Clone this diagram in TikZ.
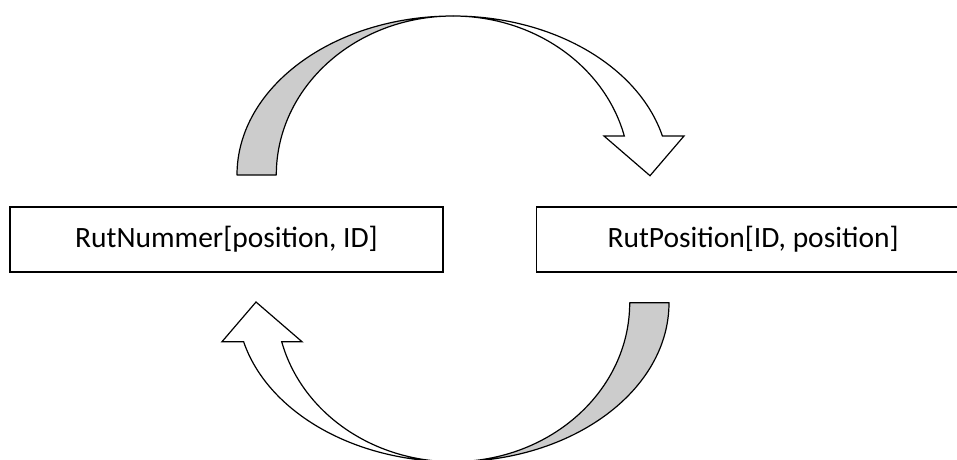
\documentclass[tikz,border=0pt]{standalone}
\usepackage{fontspec}
\setmainfont{Carlito}
\usetikzlibrary{positioning}

\tikzset{
  rutbox/.style={draw, line width=1.6pt, rectangle, minimum width=433pt,
    minimum height=65pt, inner sep=0pt, font=\fontsize{29.5}{35}\selectfont},
  bandback/.style={draw, line width=1.2pt, fill=gray!40, line join=round},
  bandfront/.style={draw, line width=1.2pt, fill=white, line join=miter},
}

\begin{document}
\begin{tikzpicture}[x=1pt,y=1pt]
\useasboundingbox (0,0) rectangle (957,459);
\clip (0,0) rectangle (957,459);

\node[rutbox] (nummer) at (226.5,219.5) {RutNummer[position, ID]};
\node[rutbox, right=92pt of nummer] (position) {RutPosition[ID, position]};

% the two curved arrows, the lower one turned round
\foreach \rot in {0,180} {
  \begin{scope}[rotate around={\rot:(453,220.15)}]
    \draw[bandfront] (453,443)
      arc[x radius=216pt, y radius=159pt, start angle=90, end angle=14.2]
      -- (684,323) -- (650,283.3) -- (604,323) -- (624.3,323)
      arc[x radius=176.7pt, y radius=159pt, start angle=14.2, end angle=90] -- cycle;
    \draw[bandback] (237,284)
      arc[x radius=216pt, y radius=159pt, start angle=180, end angle=90]
      arc[x radius=176.7pt, y radius=159pt, start angle=90, end angle=180] -- cycle;
  \end{scope}
}
\end{tikzpicture}
\end{document}
